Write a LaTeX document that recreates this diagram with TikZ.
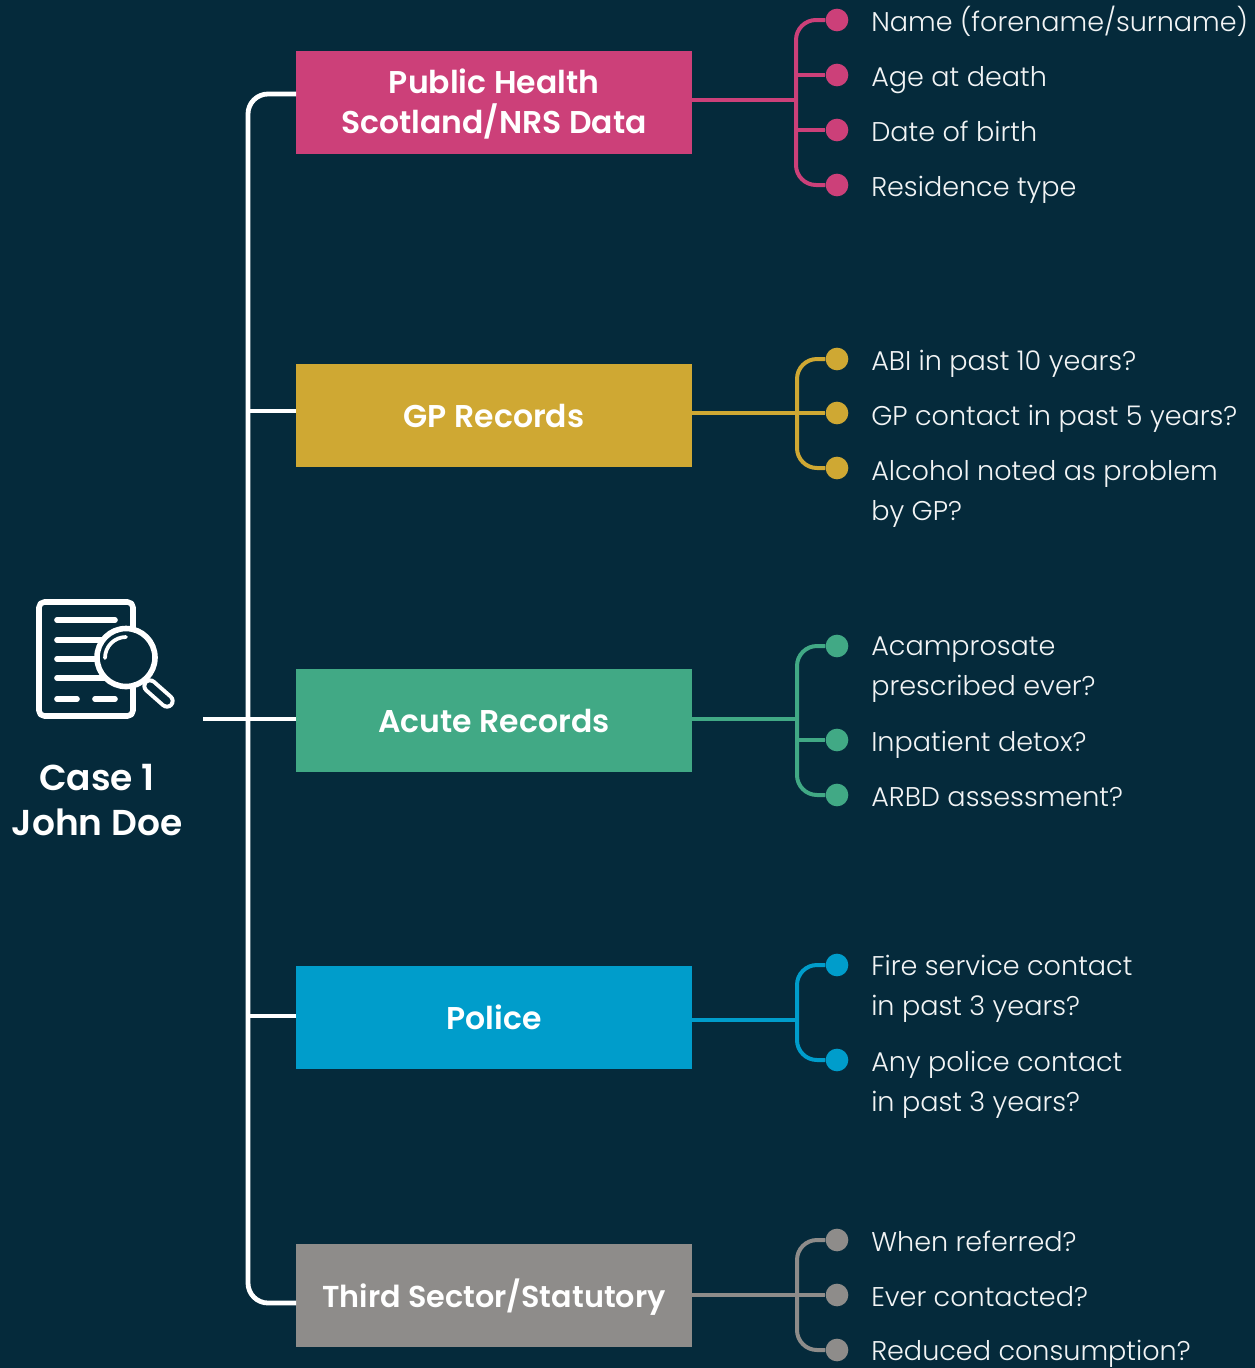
\documentclass[tikz,border=0pt]{standalone}
\usepackage{fontspec}
\setmainfont{Poppins}
\newfontfamily\itemfont{Poppins Light}
\newfontfamily\recfont{Poppins SemiBold}
\definecolor{bgdark}{HTML}{052A3B}
\definecolor{pubpink}{HTML}{CC4079}
\definecolor{gpgold}{HTML}{CFA833}
\definecolor{acutegreen}{HTML}{41A985}
\definecolor{policeblue}{HTML}{009DCB}
\definecolor{thirdgrey}{HTML}{8E8C8A}
\definecolor{labelwhite}{HTML}{F2F4F5}
\tikzset{
    recbox/.style={rectangle, fill=#1, text=white, align=center, inner sep=0pt, minimum width=297pt, minimum height=77.25pt, text height=21.5pt, text depth=4pt, font=\fontsize{23.6pt}{30pt}\recfont},
    itemdot/.style={circle, fill=#1, inner sep=0pt, minimum size=17pt},
    itemlabel/.style={text=labelwhite, align=left, inner sep=0pt, anchor=base west, font=\fontsize{20.3pt}{30pt}\itemfont},
    itemlabeltop/.style={itemlabel, anchor=north west},
    mainline/.style={draw=white, line width=3.6pt, rounded corners=15pt},
    subline/.style={draw=#1, line width=3pt, rounded corners=15pt},
    iconline/.style={draw=white, line width=4.2pt, line cap=round, line join=round},
}
\begin{document}
\begin{tikzpicture}[x=0.75pt, y=-0.75pt]
    \useasboundingbox (0,0) rectangle (1255,1368);
    \fill[bgdark] (0,0) rectangle (1255,1368);

    % record boxes
    \node (pub) [recbox=pubpink, text height=50pt] at (494,102.5) {Public Health\\Scotland/NRS Data};
    \node (gp) [recbox=gpgold] at (494,415.5) {GP Records};
    \node (acute) [recbox=acutegreen] at (494,720.5) {Acute Records};
    \node (police) [recbox=policeblue] at (494,1017.5) {Police};
    \node (third) [recbox=thirdgrey, font=\fontsize{22.7pt}{30pt}\recfont] at (494,1295.5) {Third Sector/Statutory};

    % case on the left
    \node (case) [text=white, align=center, inner sep=0pt, font=\fontsize{27pt}{33.75pt}\recfont] at (97,800) {Case 1\\John Doe};
    \draw[iconline, rounded corners=4pt] (39,602) rectangle (133,716);
    \draw[iconline] (57,620) -- (115,620);
    \draw[iconline] (57,640) -- (110,640);
    \draw[iconline] (57,659) -- (110,659);
    \draw[iconline] (57,678) -- (110,678);
    \draw[iconline] (57,699) -- (77,699);
    \draw[iconline] (95,699) -- (115,699);
    \draw[iconline, fill=bgdark] (126,657.5) circle (29);
    \draw[iconline, line width=2.8pt] (105,658) arc (180:270:21);
    \draw[white, line width=11.5pt, line cap=round] (150,686) -- (167,701);
    \draw[bgdark, line width=5.5pt, line cap=round] (150,686) -- (167,701);

    % main tree
    \coordinate (hub) at (248,719);
    \coordinate (caseout) at (203,719);
    \coordinate (pubin) at (296,94);
    \coordinate (gpin) at (296,411);
    \coordinate (policein) at (296,1016);
    \coordinate (thirdin) at (296,1303);
    \draw[mainline] (pubin) -| (hub) |- (thirdin);
    \draw[mainline] (gpin) -- (gpin -| hub);
    \draw[mainline] (policein) -- (policein -| hub);
    \draw[mainline] (caseout) -- (acute.west |- caseout);

    % Public Health items
    \node (pubdota) [itemdot=pubpink] at (837,20) {};
    \node (pubdotb) [itemdot=pubpink] at (837,75) {};
    \node (pubdotc) [itemdot=pubpink] at (837,130) {};
    \node (pubdotd) [itemdot=pubpink] at (837,185) {};
    \node (publa) [itemlabel] at (871,31) {Name (forename/surname)};
    \node (publb) [itemlabel] at (871,86) {Age at death};
    \node (publc) [itemlabel] at (871,141) {Date of birth};
    \node (publd) [itemlabel] at (871,196) {Residence type};
    \coordinate (pubbus) at (796,100);
    \draw[subline=pubpink] (pubdota) -| (pubbus) |- (pubdotd);
    \draw[subline=pubpink] (pub.east |- pubbus) -- (pubbus);
    \draw[subline=pubpink] (pubdotb -| pubbus) -- (pubdotb);
    \draw[subline=pubpink] (pubdotc -| pubbus) -- (pubdotc);

    % GP items
    \node (gpdota) [itemdot=gpgold] at (837,359) {};
    \node (gpdotb) [itemdot=gpgold] at (837,413) {};
    \node (gpdotc) [itemdot=gpgold] at (837,468) {};
    \node (gpla) [itemlabel] at (871,370) {ABI in past 10 years?};
    \node (gplb) [itemlabel] at (871,425) {GP contact in past 5 years?};
    \node (gplc) [itemlabeltop] at (871,460) {Alcohol noted as problem\\by GP?};
    \coordinate (gpbus) at (797,413);
    \draw[subline=gpgold] (gpdota) -| (gpbus) |- (gpdotc);
    \draw[subline=gpgold] (gp.east |- gpbus) -- (gpdotb);

    % Acute items
    \node (acutedota) [itemdot=acutegreen] at (837,646) {};
    \node (acutedotb) [itemdot=acutegreen] at (837,740) {};
    \node (acutedotc) [itemdot=acutegreen] at (837,795) {};
    \node (acutela) [itemlabeltop] at (871,637) {Acamprosate\\prescribed ever?};
    \node (acutelb) [itemlabel] at (871,751) {Inpatient detox?};
    \node (acutelc) [itemlabel] at (871,806) {ARBD assessment?};
    \coordinate (acutebus) at (797,719);
    \draw[subline=acutegreen] (acutedota) -| (acutebus) |- (acutedotc);
    \draw[subline=acutegreen] (acute.east |- acutebus) -- (acutebus);
    \draw[subline=acutegreen] (acutedotb -| acutebus) -- (acutedotb);

    % Police items
    \node (policedota) [itemdot=policeblue] at (837,965) {};
    \node (policedotb) [itemdot=policeblue] at (837,1060) {};
    \node (policela) [itemlabeltop] at (871,955) {Fire service contact\\in past 3 years?};
    \node (policelb) [itemlabeltop] at (871,1051) {Any police contact\\in past 3 years?};
    \coordinate (policebus) at (797,1020);
    \draw[subline=policeblue] (policedota) -| (policebus) |- (policedotb);
    \draw[subline=policeblue] (police.east |- policebus) -- (policebus);

    % Third Sector items
    \node (thirddota) [itemdot=thirdgrey] at (837,1240) {};
    \node (thirddotb) [itemdot=thirdgrey] at (837,1295) {};
    \node (thirddotc) [itemdot=thirdgrey] at (837,1350) {};
    \node (thirdla) [itemlabel] at (871,1251) {When referred?};
    \node (thirdlb) [itemlabel] at (871,1306) {Ever contacted?};
    \node (thirdlc) [itemlabel] at (871,1360) {Reduced consumption?};
    \coordinate (thirdbus) at (797,1295);
    \draw[subline=thirdgrey] (thirddota) -| (thirdbus) |- (thirddotc);
    \draw[subline=thirdgrey] (third.east |- thirdbus) -- (thirddotb);
\end{tikzpicture}
\end{document}
